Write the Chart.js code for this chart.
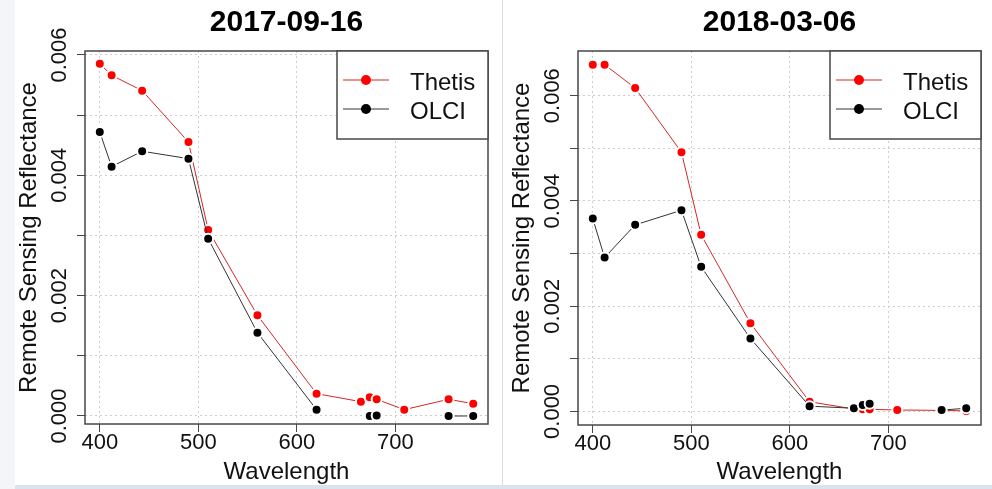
<!DOCTYPE html>
<html>
<head>
<meta charset="utf-8">
<title>Thetis vs OLCI</title>
<script src="https://cdn.jsdelivr.net/npm/chart.js@4.4.1/dist/chart.umd.min.js"></script>
<style>
    body { margin: 0; width: 992px; height: 489px; background: #fff; position: relative; overflow: hidden; }
    #leftEdge { position: absolute; left: 0; top: 0; width: 15px; height: 489px; background: #f3f5f9; }
    #divider { position: absolute; left: 502px; top: 0; width: 1px; height: 485px; background: #d5dce6; }
    #bottomBar { position: absolute; left: 15px; top: 485px; width: 977px; height: 4px; background: #dbe3ed; z-index: 2; }
    #panel1 { position: absolute; left: 15px; top: 0; }
    #panel2 { position: absolute; left: 503px; top: 0; }
</style>
</head>
<body>
<div id="leftEdge"></div>
<div id="divider"></div>
<canvas id="panel1" width="486" height="489"></canvas>
<canvas id="panel2" width="489" height="489"></canvas>
<div id="bottomBar"></div>

<script>
// band centres (nm)
var wavelengths = [400, 412, 443, 490, 510, 560, 620, 665, 674, 681, 709, 754, 779];

// 2017-09-16
var thetisSep = [0.005855, 0.005663, 0.005407, 0.004554, 0.003091, 0.001674, 0.000371, 0.000238, 0.000311, 0.000278, 0.000105, 0.000278, 0.000204];
var olciSep = [0.00472, 0.004144, 0.0044, 0.004277, 0.002947, 0.001385, 0.000105, null, 0.0, 0.00001, null, 0.0, 0.0];

// 2018-03-06
var thetisMar = [0.006589, 0.006589, 0.006146, 0.004924, 0.003355, 0.001677, 0.000184, 0.000046, 0.00004, 0.00004, 0.000027, 0.00002, 0.00001];
var olciMar = [0.003665, 0.002924, 0.003545, 0.003822, 0.002747, 0.001386, 0.0001, 0.00006, 0.00012, 0.000145, null, 0.000025, 0.00006];

// axis ticks; only every other y tick gets a label
var xTicks = [400, 500, 600, 700];
var yTicks = [0, 0.001, 0.002, 0.003, 0.004, 0.005, 0.006];

var seriesNames = ["Thetis", "OLCI"];
var seriesColors = ["#ff0000", "#000000"];
var lineColors = ["#d42626", "#333333"];

var FONT = '"Liberation Sans", Arial, sans-serif';
var boxColor = "#474747";

Chart.defaults.font.family = FONT;
Chart.defaults.color = "#111";

function toPoints(vals) {
    return wavelengths.map(function (w, i) {
        return { x: w, y: vals[i] };
    });
}

function fixedTicks(list) {
    return function (scale) {
        scale.ticks = list.map(function (v) { return { value: v }; });
    };
}

// frame around the plotting region
var plotBox = {
    id: 'plotBox',
    afterDraw: function (chart) {
        var a = chart.chartArea;
        var ctx = chart.ctx;
        ctx.save();
        ctx.strokeStyle = boxColor;
        ctx.lineWidth = 1.5;
        ctx.strokeRect(a.left, a.top, a.right - a.left, a.bottom - a.top);
        ctx.restore();
    }
};

// boxed legend in the top right corner, line + dot per series
var legendBox = {
    id: 'legendBox',
    afterDraw: function (chart) {
        var a = chart.chartArea;
        var ctx = chart.ctx;
        var w = 151, h = 88;
        var x = a.right - w, y = a.top;
        ctx.save();
        ctx.fillStyle = "#fff";
        ctx.fillRect(x, y, w, h);
        ctx.strokeStyle = boxColor;
        ctx.lineWidth = 1.5;
        ctx.strokeRect(x, y, w, h);
        chart.data.datasets.forEach(function (ds, i) {
            var cy = y + 29 + i * 29;
            ctx.strokeStyle = ds.borderColor;
            ctx.lineWidth = 1;
            ctx.beginPath();
            ctx.moveTo(x + 6, cy);
            ctx.lineTo(x + 52, cy);
            ctx.stroke();
            ctx.fillStyle = ds.pointBackgroundColor;
            ctx.beginPath();
            ctx.arc(x + 29, cy, 5, 0, Math.PI * 2);
            ctx.fill();
            ctx.fillStyle = "#111";
            ctx.font = "24px " + FONT;
            ctx.textBaseline = "alphabetic";
            ctx.fillText(ds.label, x + 73, cy + 10);
        });
        ctx.restore();
    }
};

function createGraph(id, title, thetis, olci, yMin, yMax, pad, xHeight) {
    var ctx = document.getElementById(id).getContext('2d');
    var datasets = [thetis, olci].map(function (vals, i) {
        return {
            label: seriesNames[i],
            data: toPoints(vals),
            borderColor: lineColors[i],
            borderWidth: 1,
            pointBackgroundColor: seriesColors[i],
            pointBorderColor: "#fff",
            pointBorderWidth: 2,
            pointRadius: 5,
            spanGaps: false,
            order: 1 - i
        };
    });

    return new Chart(ctx, {
        type: 'line',
        data: { datasets: datasets },
        options: {
            responsive: false,
            animation: false,
            devicePixelRatio: 1,
            events: [],
            layout: { padding: { left: pad.left, right: pad.right, top: 0, bottom: 5 } },
            plugins: {
                legend: { display: false },
                tooltip: { enabled: false },
                title: {
                    display: true,
                    text: title,
                    fullSize: false,
                    color: "#000",
                    font: { size: 30, weight: 'bold', lineHeight: 1 },
                    padding: { top: 8, bottom: 13 }
                }
            },
            scales: {
                x: {
                    type: 'linear',
                    min: 385,
                    max: 794,
                    afterBuildTicks: fixedTicks(xTicks),
                    afterFit: function (s) { s.height = xHeight; },
                    ticks: {
                        padding: 0,
                        font: { size: 22, lineHeight: 1 },
                        color: "#111"
                    },
                    grid: {
                        color: "#cdcdcd",
                        lineWidth: 1,
                        tickLength: 8,
                        tickColor: boxColor,
                        tickWidth: 1
                    },
                    border: { display: false, dash: [2, 3] },
                    title: {
                        display: true,
                        text: 'Wavelength',
                        color: "#111",
                        font: { size: 24, lineHeight: 1 },
                        padding: 0
                    }
                },
                y: {
                    min: yMin,
                    max: yMax,
                    afterBuildTicks: fixedTicks(yTicks),
                    afterFit: function (s) { s.width = 67.5; },
                    ticks: {
                        autoSkip: false,
                        minRotation: 90,
                        maxRotation: 90,
                        crossAlign: 'center',
                        padding: -10.5,
                        font: { size: 22, lineHeight: 1 },
                        color: "#111",
                        callback: function (v) {
                            return Math.round(v * 1000) % 2 === 0 ? v.toFixed(3) : '';
                        }
                    },
                    grid: {
                        color: "#cdcdcd",
                        lineWidth: 1,
                        tickLength: 8,
                        tickColor: boxColor,
                        tickWidth: 1
                    },
                    border: { display: false, dash: [2, 3] },
                    title: {
                        display: true,
                        text: 'Remote Sensing Reflectance',
                        color: "#111",
                        font: { size: 24, lineHeight: 1 },
                        padding: 0
                    }
                }
            }
        },
        plugins: [plotBox, legendBox]
    });
}

createGraph('panel1', '2017-09-16', thetisSep, olciSep, -0.000133, 0.006066, { left: 2.5, right: 13 }, 60);
createGraph('panel2', '2018-03-06', thetisMar, olciMar, -0.000258, 0.006849, { left: 7.5, right: 11 }, 59);
</script>
</body>
</html>
